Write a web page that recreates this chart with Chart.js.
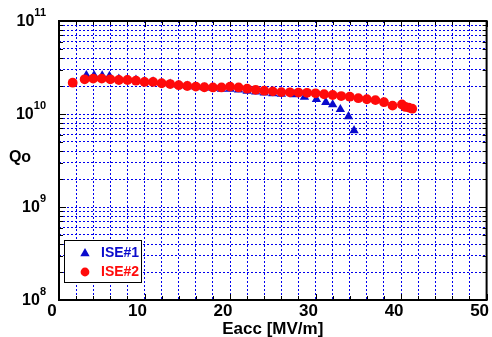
<!DOCTYPE html>
<html>
<head>
<meta charset="utf-8">
<script src="https://cdn.jsdelivr.net/npm/chart.js@4.4.1/dist/chart.umd.min.js"></script>
<style>
html, body { margin: 0; padding: 0; background: #fff; }
#wrap { width: 492px; height: 337px; }
</style>
</head>
<body>
<div id="wrap"><canvas id="qoChart" width="492" height="337"></canvas></div>
<script>
const FONT = "'Liberation Sans', Arial, Helvetica, sans-serif";
const BLUE = '#0a0acc';
const RED = '#ff0a0a';
const GRID = '#0000ee';

// --- Data ---
const ise1Eacc = [3.2, 4.1, 5.05, 5.9, 7, 8, 9, 10, 11, 12, 13, 14, 15, 16, 17, 18, 19, 20, 21, 22, 23, 24, 25, 26, 27.5, 28.7, 30.1, 31.2, 32, 32.9, 33.85, 34.5];
const ise1Qo = [2.60e10, 2.60e10, 2.58e10, 2.56e10, 2.38e10, 2.36e10, 2.32e10, 2.25e10, 2.23e10, 2.16e10, 2.11e10, 2.05e10, 2.00e10, 1.96e10, 1.92e10, 1.89e10, 1.86e10, 1.86e10, 1.82e10, 1.77e10, 1.73e10, 1.69e10, 1.66e10, 1.64e10, 1.62e10, 1.52e10, 1.44e10, 1.34e10, 1.26e10, 1.12e10, 9.4e9, 6.65e9];

const ise2Eacc = [1.6, 3, 4, 5, 6, 7, 8, 9, 10, 11, 12, 13, 14, 15, 16, 17, 18, 19, 20, 21, 22, 23, 24, 25, 26, 27, 28, 29, 30, 31, 32, 33, 34, 35, 36, 37, 38, 39, 40.1, 40.5, 40.9, 41.3];
const ise2Qo = [2.17e10, 2.36e10, 2.40e10, 2.40e10, 2.36e10, 2.32e10, 2.32e10, 2.28e10, 2.21e10, 2.21e10, 2.14e10, 2.10e10, 2.04e10, 2.00e10, 1.97e10, 1.94e10, 1.93e10, 1.93e10, 1.97e10, 1.93e10, 1.87e10, 1.82e10, 1.78e10, 1.75e10, 1.72e10, 1.71e10, 1.70e10, 1.69e10, 1.67e10, 1.63e10, 1.60e10, 1.56e10, 1.535e10, 1.48e10, 1.44e10, 1.41e10, 1.34e10, 1.23e10, 1.265e10, 1.19e10, 1.17e10, 1.14e10];

const xTicks = [0, 2, 4, 6, 8, 10, 12, 14, 16, 18, 20, 22, 24, 26, 28, 30, 32, 34, 36, 38, 40, 42, 44, 46, 48, 50];
const yTicks = [1e8, 2e8, 3e8, 4e8, 5e8, 6e8, 7e8, 8e8, 9e8,
                1e9, 2e9, 3e9, 4e9, 5e9, 6e9, 7e9, 8e9, 9e9,
                1e10, 2e10, 3e10, 4e10, 5e10, 6e10, 7e10, 8e10, 9e10, 1e11];
const yDecades = [8, 9, 10, 11];

const seriesNames = ['ISE#1', 'ISE#2'];

const toPoints = (xs, ys) => xs.map((x, i) => ({ x: x, y: ys[i] }));

// frame, inner ticks, y labels, "Qo" and the boxed legend
const decorPlugin = {
    id: 'decor',
    afterDraw(chart) {
        const ctx = chart.ctx;
        const a = chart.chartArea;
        const xs = chart.scales.x, ys = chart.scales.y;
        ctx.save();

        // inner tick marks
        ctx.strokeStyle = '#000';
        ctx.lineWidth = 1;
        ctx.beginPath();
        xTicks.forEach(v => {
            const px = Math.round(xs.getPixelForValue(v)) + 0.5;
            const len = v % 10 === 0 ? 6 : 4;
            ctx.moveTo(px, a.bottom); ctx.lineTo(px, a.bottom - len);
            ctx.moveTo(px, a.top); ctx.lineTo(px, a.top + len);
        });
        yTicks.forEach(v => {
            const py = Math.round(ys.getPixelForValue(v)) + 0.5;
            const major = yDecades.some(e => Math.abs(Math.log10(v) - e) < 1e-6);
            const len = major ? 7 : 4;
            ctx.moveTo(a.left, py); ctx.lineTo(a.left + len, py);
            ctx.moveTo(a.right, py); ctx.lineTo(a.right - len, py);
        });
        ctx.stroke();

        // frame
        ctx.lineWidth = 2;
        ctx.strokeRect(a.left, a.top, a.right - a.left, a.bottom - a.top);

        // y tick labels 10^n
        ctx.fillStyle = '#000';
        yDecades.forEach(e => {
            const py = ys.getPixelForValue(Math.pow(10, e));
            const sup = String(e);
            ctx.font = 'bold 11px ' + FONT;
            const supW = ctx.measureText(sup).width;
            ctx.textAlign = 'right';
            ctx.textBaseline = 'alphabetic';
            ctx.fillText(sup, 46, py - 5);
            ctx.font = 'bold 16px ' + FONT;
            ctx.textBaseline = 'middle';
            ctx.fillText('10', 46 - supW, py + 1);
        });

        // y axis title
        ctx.font = 'bold 16px ' + FONT;
        ctx.textAlign = 'center';
        ctx.textBaseline = 'middle';
        ctx.fillText('Qo', 20, 158);

        // legend box
        const lx = 64.5, ly = 240.5, lw = 77, lh = 42;
        ctx.fillStyle = '#fff';
        ctx.fillRect(lx, ly, lw, lh);
        ctx.strokeStyle = '#000';
        ctx.lineWidth = 1;
        ctx.strokeRect(lx, ly, lw, lh);

        const rows = [
            { name: seriesNames[0], color: BLUE, style: 'triangle', r: 5.4, y: 253.5 },
            { name: seriesNames[1], color: RED, style: 'circle', r: 4.4, y: 272 }
        ];
        rows.forEach(row => {
            ctx.fillStyle = row.color;
            ctx.strokeStyle = row.color;
            Chart.helpers.drawPoint(ctx, { pointStyle: row.style, radius: row.r, rotation: 0, borderWidth: 0 }, 85, row.y);
            ctx.font = 'bold 14px ' + FONT;
            ctx.textAlign = 'left';
            ctx.textBaseline = 'middle';
            ctx.fillText(row.name, 101, row.y);
        });

        ctx.restore();
    }
};

const chart = new Chart(document.getElementById('qoChart'), {
    type: 'scatter',
    data: {
        datasets: [
            {
                label: seriesNames[0],
                data: toPoints(ise1Eacc, ise1Qo),
                pointStyle: 'triangle',
                pointRadius: 5.4,
                backgroundColor: BLUE,
                borderColor: BLUE,
                borderWidth: 0,
                order: 2
            },
            {
                label: seriesNames[1],
                data: toPoints(ise2Eacc, ise2Qo),
                pointStyle: 'circle',
                pointRadius: 4.9,
                backgroundColor: RED,
                borderColor: RED,
                borderWidth: 0,
                order: 1
            }
        ]
    },
    options: {
        responsive: false,
        animation: false,
        layout: { padding: { left: 0, top: 21, right: 2.5, bottom: 0 } },
        plugins: { legend: { display: false }, tooltip: { enabled: false } },
        scales: {
            x: {
                type: 'linear',
                min: 0,
                max: 50,
                afterBuildTicks: s => { s.ticks = xTicks.map(v => ({ value: v })); },
                afterFit: s => { s.height = 37; s.paddingLeft = 0; s.paddingRight = 0; },
                grid: { color: GRID, lineWidth: 1, drawTicks: false },
                border: { display: false, dash: [2, 2] },
                ticks: {
                    autoSkip: false,
                    maxRotation: 0,
                    padding: 1,
                    labelOffset: -7,
                    color: '#000',
                    font: { family: FONT, size: 17, weight: 'bold' },
                    callback: v => (v % 10 === 0 ? String(v) : '')
                },
                title: {
                    display: true,
                    text: 'Eacc [MV/m]',
                    color: '#000',
                    font: { family: FONT, size: 17, weight: 'bold' },
                    padding: { top: 0, bottom: -3 }
                }
            },
            y: {
                type: 'logarithmic',
                min: 1e8,
                max: 1e11,
                afterBuildTicks: s => { s.ticks = yTicks.map(v => ({ value: v })); },
                afterFit: s => { s.width = 59; s.paddingTop = 0; s.paddingBottom = 0; },
                grid: { color: GRID, lineWidth: 1, drawTicks: false },
                border: { display: false, dash: [2, 2] },
                ticks: { display: false }
            }
        }
    },
    plugins: [decorPlugin]
});
</script>
</body>
</html>
